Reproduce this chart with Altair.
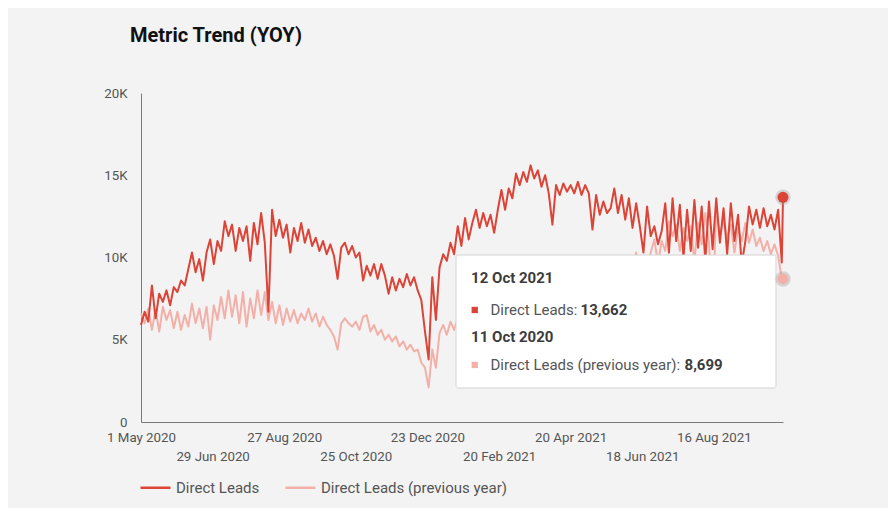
import altair as alt
import pandas as pd

# ---------------- data ----------------
start_date = "2020-05-01"
step_days = 3
last_date = "2021-10-12"

# Direct Leads, one value every 3 days from 1 May 2020 to 11 Oct 2021
direct_leads = [
    5900, 6700, 6100, 8300, 6300, 7800, 7300, 8000, 7100, 8200,
    7900, 8600, 8300, 9300, 10300, 9100, 9900, 8600, 10300, 11100,
    9600, 11000, 10400, 12200, 11300, 12000, 10400, 11800, 11000, 11900,
    9800, 12100, 10800, 12700, 10900, 6700, 12900, 11300, 12300, 11200,
    12000, 10300, 11800, 11000, 12100, 10900, 11700, 10700, 11200, 10400,
    11000, 10200, 10800, 10100, 8700, 10600, 10900, 10200, 10700, 10000,
    10300, 8600, 9500, 8900, 9600, 8700, 9600, 8900, 7800, 8800,
    8000, 8700, 8200, 9000, 8300, 8800, 8000, 7400, 5500, 3800,
    8800, 6200, 9400, 10200, 9800, 10900, 10200, 11900, 10700, 12400,
    11100, 12100, 12900, 11800, 12700, 11900, 12600, 11500, 12900, 14100,
    12900, 14200, 13600, 15100, 14400, 15200, 14600, 15600, 14800, 15300,
    14300, 15000, 13900, 12000, 14400, 13800, 14500, 14000, 14400, 13900,
    14600, 13800, 14400, 13900, 11700, 13800, 12600, 13400, 12700, 13000,
    14200, 12700, 13800, 12300, 13600, 11800, 13300, 11900, 10300, 13100,
    11300, 11900, 10800, 11600, 13300, 10300, 13600, 11000, 13200, 10000,
    12900, 10400, 13500, 10600, 13100, 9800, 13400, 10500, 13600, 10900,
    13000, 10200, 13300, 11000, 12600, 9600, 11000, 13100, 12000, 12900,
    11800, 13000, 11900, 12600, 11700, 12900, 9700,
]
direct_leads_last = 13662

# Direct Leads (previous year), same dates
direct_leads_prev = [
    6600, 6000, 6900, 5600, 6800, 5500, 7000, 6200, 6800, 5700,
    6700, 5600, 6500, 5800, 7200, 6000, 6900, 5700, 7000, 5000,
    7100, 6200, 7600, 6300, 8000, 6400, 7700, 6000, 7900, 5800,
    7500, 6300, 8000, 6500, 7900, 6200, 7300, 6000, 7100, 5900,
    6900, 6100, 6800, 6000, 6600, 6200, 6900, 6100, 6600, 5800,
    6400, 5900, 5600, 5200, 4400, 6000, 6300, 6000, 5800, 6100,
    5600, 6400, 6500, 5500, 5900, 5300, 5600, 5000, 5300, 4900,
    5200, 4600, 4900, 4400, 4700, 4300, 4400, 3600, 3300, 2100,
    4400, 3300, 5400, 5900, 5300, 6100, 5600, 6300, 6000, 6800,
    6100, 7000, 6300, 7200, 6200, 6900, 6400, 7300, 6500, 7100,
    6300, 7400, 6600, 7000, 6200, 6900, 5900, 6700, 6000, 6500,
    5700, 6600, 5900, 6400, 5600, 6500, 5800, 6300, 5700, 6200,
    5800, 6100,
    5900, 6700, 6100, 8300, 6300, 7800, 7300, 8000, 7100, 8200,
    7900, 8600, 8300, 9300, 10300, 9100, 9900, 8600, 10300, 11100,
    9600, 11000, 10400, 12200, 11300, 12000, 10400, 11800, 11000, 11900,
    9800, 12100, 10800, 12700, 10900, 6700, 12900, 11300, 12300, 11200,
    12000, 10300, 11800, 11000, 12100, 10900, 11700, 10700, 11200, 10400,
    11000, 10200, 10800, 10100, 8700,
]
direct_leads_prev_last = 8699

series_names = ["Direct Leads", "Direct Leads (previous year)"]
series_colors = ["#db4437", "#f3b0a9"]

x_tick_dates = ["2020-05-01", "2020-06-29", "2020-08-27", "2020-10-25", "2020-12-23",
                "2021-02-20", "2021-04-20", "2021-06-18", "2021-08-16"]
x_second_row = ["29 Jun 2020", "25 Oct 2020", "20 Feb 2021", "18 Jun 2021"]
y_tick_values = [0, 5000, 10000, 15000, 20000]

# tooltip content
tip_headers = ["12 Oct 2021", "11 Oct 2020"]
tip_labels = ["Direct Leads: ", "Direct Leads (previous year): "]
tip_values = ["13,662", "8,699"]
# tooltip placement in data space
tip_box_x = ["2021-01-15T14:00:00Z", "2021-10-06T05:00:00Z"]
tip_box_y = [10150, 2070]
tip_header_x = "2021-01-28T00:00:00Z"
tip_square_x = "2021-01-31T00:00:00Z"
tip_label_x = "2021-02-13T00:00:00Z"
tip_header_y = [8750, 5170]
tip_row_y = [6810, 3470]

# ---------------- tables ----------------
def ms(d):
    return int(pd.Timestamp(d, tz="UTC").timestamp() * 1000)

base = pd.Timestamp(start_date)
grid = [(base + pd.Timedelta(days=step_days * i)).strftime("%Y-%m-%dT00:00:00Z")
        for i in range(len(direct_leads))]
last_iso = last_date + "T00:00:00Z"

cur_df = pd.DataFrame({"date": grid + [last_iso],
                       "value": direct_leads + [direct_leads_last],
                       "series": series_names[0]})
prev_df = pd.DataFrame({"date": grid + [last_iso],
                        "value": direct_leads_prev + [direct_leads_prev_last],
                        "series": series_names[1]})
end_df = pd.DataFrame({"date": [last_iso, last_iso],
                       "value": [direct_leads_last, direct_leads_prev_last],
                       "fill": series_colors})
box_df = pd.DataFrame({"date": [tip_box_x[0]], "date2": [tip_box_x[1]],
                       "value": [tip_box_y[0]], "value2": [tip_box_y[1]]})
head_df = pd.DataFrame({"date": [tip_header_x] * 2, "value": tip_header_y, "text": tip_headers})
sq_df = pd.DataFrame({"date": [tip_square_x] * 2, "value": tip_row_y, "fill": series_colors})
lab_df = pd.DataFrame({"date": [tip_label_x] * 2, "value": tip_row_y, "text": tip_labels})
val1_df = pd.DataFrame({"date": [tip_label_x], "value": [tip_row_y[0]], "text": [tip_values[0]]})
val2_df = pd.DataFrame({"date": [tip_label_x], "value": [tip_row_y[1]], "text": [tip_values[1]]})

# ---------------- encodings ----------------
FONT = "Roboto"
label_color = "#555555"
fmt = "utcFormat(datum.value, '%-d %b %Y')"
second_list = "[" + ",".join("'" + s + "'" for s in x_second_row) + "]"
x_label_expr = f"indexof({second_list}, {fmt}) >= 0 ? ['', {fmt}] : {fmt}"

x_scale = alt.Scale(type="utc", domain=[ms(start_date), ms(last_date)])
y_scale = alt.Scale(domain=[0, 20000], nice=False)

x_axis = alt.Axis(values=[ms(d) for d in x_tick_dates], labelExpr=x_label_expr,
                  labelFlush=False, labelOverlap=False, ticks=False, grid=False,
                  domainColor="#7a7a7a", domainWidth=1, labelColor=label_color,
                  labelFont=FONT, labelFontSize=13.3, labelPadding=8,
                  labelLineHeight=19)
y_axis = alt.Axis(values=y_tick_values,
                  labelExpr="datum.value == 0 ? '0' : (datum.value / 1000) + 'K'",
                  ticks=False, grid=False, domainColor="#7a7a7a", domainWidth=1,
                  labelColor=label_color, labelFont=FONT, labelFontSize=13.3,
                  labelPadding=14)

X = alt.X("date:T", scale=x_scale, axis=x_axis, title=None)
Y = alt.Y("value:Q", scale=y_scale, axis=y_axis, title=None)
Xp = alt.X("date:T", title=None)
Yp = alt.Y("value:Q", title=None)

color = alt.Color("series:N", scale=alt.Scale(domain=series_names, range=series_colors),
                  legend=alt.Legend(title=None, orient="none", legendX=-2, legendY=378,
                                    direction="horizontal", symbolType="stroke",
                                    symbolSize=900, symbolStrokeWidth=2.5,
                                    labelFont=FONT, labelFontSize=15, labelLimit=400,
                                    labelColor=label_color, labelOffset=4,
                                    columnPadding=20, padding=0))

prev_line = alt.Chart(prev_df).mark_line(strokeWidth=2, strokeJoin="round").encode(
    x=X, y=Y, color=color)
cur_line = alt.Chart(cur_df).mark_line(strokeWidth=2, strokeJoin="round").encode(
    x=Xp, y=Yp, color=color)

shadow = alt.Chart(box_df).mark_rect(fill="#000000", opacity=0.06, cornerRadius=3).encode(
    x=Xp, x2="date2:T", y=alt.Y("value:Q", title=None), y2="value2:Q")
box = alt.Chart(box_df).mark_rect(fill="white", stroke="#d4d4d4", strokeWidth=1,
                                  cornerRadius=2).encode(
    x=Xp, x2="date2:T", y=Yp, y2="value2:Q")

heads = alt.Chart(head_df).mark_text(align="left", baseline="middle", font=FONT,
                                     fontSize=15, fontWeight="bold",
                                     color="#3c3c3c").encode(x=Xp, y=Yp, text="text:N")
squares = alt.Chart(sq_df).mark_square(size=40, opacity=1).encode(
    x=Xp, y=Yp, color=alt.Color("fill:N", scale=None))
labels = alt.Chart(lab_df).mark_text(align="left", baseline="middle", font=FONT,
                                     fontSize=15, color=label_color).encode(
    x=Xp, y=Yp, text="text:N")
val1 = alt.Chart(val1_df).mark_text(align="left", baseline="middle", font=FONT,
                                    fontSize=15, fontWeight="bold", color="#3c3c3c",
                                    dx=90).encode(x=Xp, y=Yp, text="text:N")
val2 = alt.Chart(val2_df).mark_text(align="left", baseline="middle", font=FONT,
                                    fontSize=15, fontWeight="bold", color="#3c3c3c",
                                    dx=194).encode(x=Xp, y=Yp, text="text:N")

halo = alt.Chart(end_df).mark_circle(size=240, color="#9a9a9a", opacity=0.35).encode(
    x=Xp, y=Yp)
dots = alt.Chart(end_df).mark_circle(size=120, opacity=1).encode(
    x=Xp, y=Yp, color=alt.Color("fill:N", scale=None))

chart = alt.layer(prev_line, cur_line, shadow, box, heads, squares, labels, val1, val2,
                  halo, dots).properties(
    width=642, height=329,
    title=alt.TitleParams(text="Metric Trend (YOY)", anchor="start", frame="group",
                          dx=-11, offset=40, fontSize=20, fontWeight="bold",
                          color="#111111", font=FONT),
    autosize="none",
    padding={"left": 133, "top": 85, "right": 105, "bottom": 86},
).configure(background="#f3f3f3", font=FONT).configure_view(stroke=None)

chart.save("out.html", embed_options={"renderer": "svg", "actions": False})
